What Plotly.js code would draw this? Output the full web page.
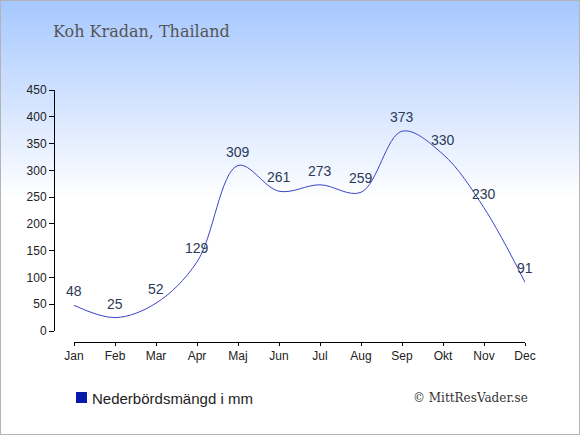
<!DOCTYPE html>
<html>
<head>
<meta charset="utf-8">
<script src="https://cdn.plot.ly/plotly-3.0.1.min.js"></script>
<style>
html,body{margin:0;padding:0;}
#wrap{position:absolute;left:0;top:0;width:578px;height:433px;border:1px solid #b4b4b4;
background:linear-gradient(to bottom,#a6c8ff 0px,#d8e6ff 110px,#ffffff 198px,#ffffff 100%);}
#chart{position:absolute;left:-1px;top:-1px;width:580px;height:435px;}
</style>
</head>
<body>
<div id="wrap"><div id="chart"></div></div>
<script>
const months = ["Jan","Feb","Mar","Apr","Maj","Jun","Jul","Aug","Sep","Okt","Nov","Dec"];
const rainfall = [48,25,52,129,309,261,273,259,373,330,230,91];
const yTicks = [0,50,100,150,200,250,300,350,400,450];
const titleText = "Koh Kradan, Thailand";
const legendText = "Nederbördsmängd i mm";
const creditText = "© MittResVader.se";

const trace = {
  x: months,
  y: rainfall,
  type: "scatter",
  mode: "lines",
  line: {shape: "spline", smoothing: 1, color: "#3a45c8", width: 1},
  hoverinfo: "none",
  showlegend: false
};

const valueLabels = months.map((m, i) => ({
  x: m, y: rainfall[i], xref: "x", yref: "y",
  text: String(rainfall[i]), showarrow: false,
  xanchor: "center", yanchor: "middle", yshift: 14,
  font: {family: "Liberation Sans, Arial, sans-serif", size: 14, color: "#2b3a58"}
}));

const layout = {
  width: 580, height: 435,
  margin: {l: 54, r: 55, t: 90, b: 93},
  paper_bgcolor: "rgba(0,0,0,0)",
  plot_bgcolor: "rgba(0,0,0,0)",
  showlegend: false,
  xaxis: {
    type: "category",
    domain: [20/471, 1],
    range: [0, 11],
    anchor: "free", position: 0,
    showgrid: false, zeroline: false,
    showline: true, linecolor: "#000", linewidth: 1,
    ticks: "outside", ticklen: 3, tickcolor: "#000",
    tickfont: {family: "Liberation Sans, Arial, sans-serif", size: 12, color: "#222"},
    fixedrange: true
  },
  yaxis: {
    domain: [11/252, 1],
    range: [0, 450],
    tickvals: yTicks,
    anchor: "free", position: 0,
    showgrid: false, zeroline: false,
    showline: true, linecolor: "#000", linewidth: 1,
    ticks: "outside", ticklen: 5, tickcolor: "#000",
    tickfont: {family: "Liberation Sans, Arial, sans-serif", size: 12, color: "#222"},
    fixedrange: true
  },
  annotations: valueLabels.concat([
    {text: titleText, xref: "paper", yref: "paper", x: -3/471, y: 1 + 58/252,
     xanchor: "left", yanchor: "middle", showarrow: false,
     font: {family: "DejaVu Serif, serif", size: 16, color: "#555"}},
    {text: legendText, xref: "paper", yref: "paper", x: 36/471, y: -56/252,
     xanchor: "left", yanchor: "middle", showarrow: false,
     font: {family: "Liberation Sans, Arial, sans-serif", size: 15, color: "#222"}},
    {text: creditText, xref: "paper", yref: "paper", x: 476/471, y: -56/252,
     xanchor: "right", yanchor: "middle", showarrow: false,
     font: {family: "DejaVu Serif, serif", size: 12, color: "#333"}}
  ]),
  shapes: [
    {type: "rect", xref: "paper", yref: "paper",
     x0: 22/471, x1: 33/471, y0: -61/252, y1: -50/252,
     fillcolor: "#0a1aa8", line: {width: 0}}
  ]
};

Plotly.newPlot("chart", [trace], layout, {staticPlot: true, displayModeBar: false});
</script>
</body>
</html>
